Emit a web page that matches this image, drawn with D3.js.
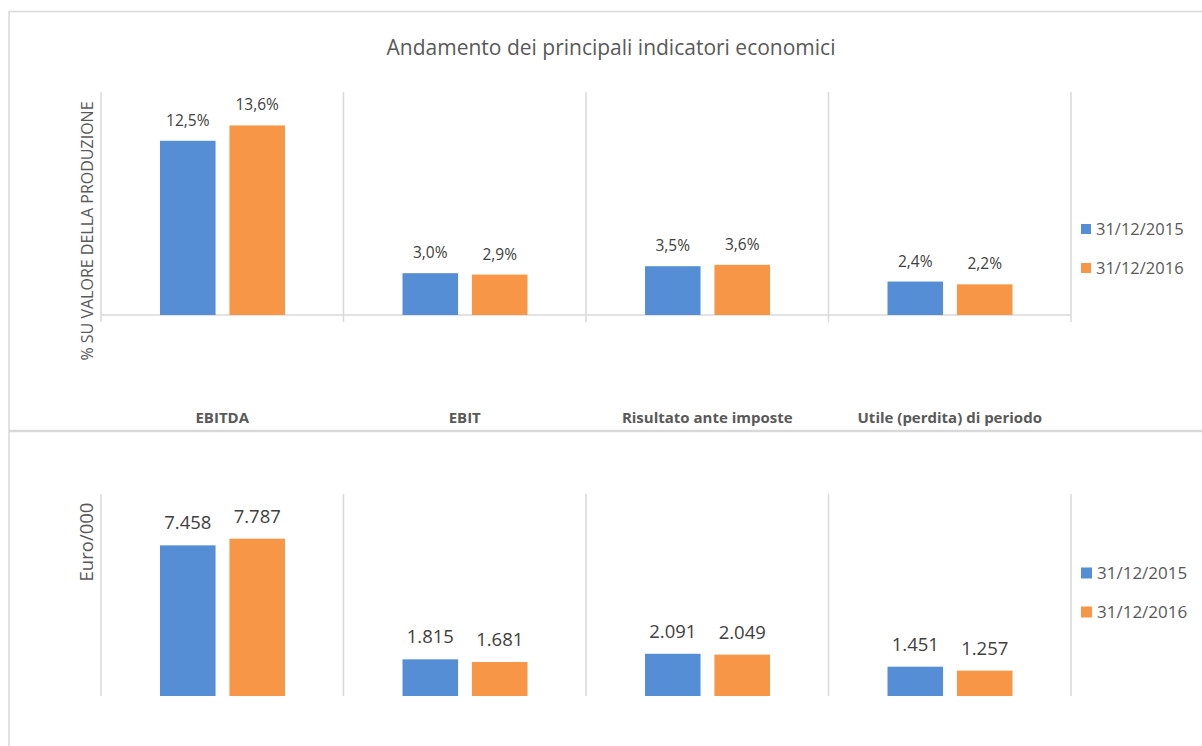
<!DOCTYPE html>
<html lang="it">
<head>
  <meta charset="UTF-8" />
  <title>Andamento dei principali indicatori economici</title>
  <script src="https://d3js.org/d3.v7.min.js"></script>
  <style>
    body, html { margin: 0; padding: 0; background: #fff; }
    svg { display: block; font-family: "Open Sans", "Noto Sans", sans-serif; }
  </style>
</head>
<body>
  <svg id="chart" width="1202" height="746"></svg>
  <script>
    // Data
    const categories = ['EBITDA', 'EBIT', 'Risultato ante imposte', 'Utile (perdita) di periodo'];
    const series = ['31/12/2015', '31/12/2016'];
    const colors = ['#558ed5', '#f79646'];
    const pctValues = [
      [12.5, 3.0, 3.5, 2.4],   // 31/12/2015
      [13.6, 2.9, 3.6, 2.2]    // 31/12/2016
    ];
    const euroValues = [
      [7458, 1815, 2091, 1451],
      [7787, 1681, 2049, 1257]
    ];

    const svg = d3.select('#chart');
    const grid = '#d9d9d9';

    // outer frame and separator
    svg.append('line').attr('x1', 9).attr('x2', 1202).attr('y1', 11.5).attr('y2', 11.5)
      .attr('stroke', grid).attr('stroke-width', 1.5);
    svg.append('line').attr('x1', 9).attr('x2', 9).attr('y1', 11).attr('y2', 746)
      .attr('stroke', grid).attr('stroke-width', 1.5);
    svg.append('line').attr('x1', 9).attr('x2', 1202).attr('y1', 431).attr('y2', 431)
      .attr('stroke', grid).attr('stroke-width', 2.5);

    svg.append('text')
      .attr('x', 611).attr('y', 55)
      .attr('text-anchor', 'middle')
      .attr('fill', '#595959')
      .style('font-size', '21px')
      .text('Andamento dei principali indicatori economici');

    const x0 = d3.scaleBand().domain(categories).range([101, 1071]);
    const x1 = d3.scaleBand().domain(series).range([59, 184]).paddingInner(0.2);

    function drawPanel(opts) {
      const g = svg.append('g');
      const y = d3.scaleLinear().domain([0, opts.max]).range([opts.bottom, opts.top]);

      // category separators
      const edges = categories.map(c => x0(c)).concat([x0.range()[1]]);
      g.selectAll('.sep').data(edges).enter().append('line')
        .attr('x1', d => d).attr('x2', d => d)
        .attr('y1', opts.top).attr('y2', opts.bottom + opts.tick)
        .attr('stroke', grid).attr('stroke-width', 1.5);

      if (opts.baseline) {
        g.append('line')
          .attr('x1', x0.range()[0]).attr('x2', x0.range()[1])
          .attr('y1', y(0)).attr('y2', y(0))
          .attr('stroke', grid).attr('stroke-width', 1.5);
      }

      series.forEach((s, si) => {
        const gs = g.append('g');
        gs.selectAll('rect').data(opts.values[si]).enter().append('rect')
          .attr('x', (d, i) => x0(categories[i]) + x1(s))
          .attr('width', x1.bandwidth())
          .attr('y', d => y(d))
          .attr('height', d => y(0) - y(d))
          .attr('fill', colors[si]);
        gs.selectAll('text').data(opts.values[si]).enter().append('text')
          .attr('x', (d, i) => x0(categories[i]) + x1(s) + x1.bandwidth() / 2)
          .attr('y', d => y(d) - opts.labelGap)
          .attr('text-anchor', 'middle')
          .attr('fill', '#404040')
          .style('font-size', opts.labelSize + 'px')
          .text(opts.fmt);
      });

      // y axis title
      g.append('text')
        .attr('transform', `translate(${opts.titleX},${opts.titleY}) rotate(-90)`)
        .attr('text-anchor', 'middle')
        .attr('fill', '#595959')
        .style('font-size', opts.titleSize + 'px')
        .text(opts.title);

      // legend
      series.forEach((s, si) => {
        const ly = opts.legendY + si * opts.legendStep;
        g.append('rect').attr('x', 1081).attr('y', ly - opts.sq / 2)
          .attr('width', opts.sq).attr('height', opts.sq).attr('fill', colors[si]);
        g.append('text').attr('x', 1081 + opts.sq + 5).attr('y', ly)
          .attr('dy', '0.35em')
          .attr('fill', '#595959')
          .style('font-size', opts.legendSize + 'px')
          .text(s);
      });
      return g;
    }

    drawPanel({
      values: pctValues, max: 16, top: 92, bottom: 315, tick: 7, baseline: true,
      fmt: d => d.toFixed(1).replace('.', ',') + '%',
      labelSize: 15.5, labelGap: 15,
      title: '% SU VALORE DELLA PRODUZIONE', titleX: 93, titleY: 231, titleSize: 16,
      legendY: 229, legendStep: 39, sq: 10, legendSize: 16.5
    });

    // category labels under the top panel
    svg.append('g').selectAll('text').data(categories).enter().append('text')
      .attr('x', d => x0(d) + x0.bandwidth() / 2)
      .attr('y', 423)
      .attr('text-anchor', 'middle')
      .attr('fill', '#595959')
      .style('font-size', '15px')
      .style('font-weight', 'bold')
      .text(d => d);

    drawPanel({
      values: euroValues, max: 10000, top: 494, bottom: 696, tick: 0, baseline: false,
      fmt: d => d3.format(',')(d).replace(/,/g, '.'),
      labelSize: 18.5, labelGap: 16,
      title: 'Euro/000', titleX: 93, titleY: 542, titleSize: 18.5,
      legendY: 573, legendStep: 39, sq: 11, legendSize: 17
    });
  </script>
</body>
</html>
